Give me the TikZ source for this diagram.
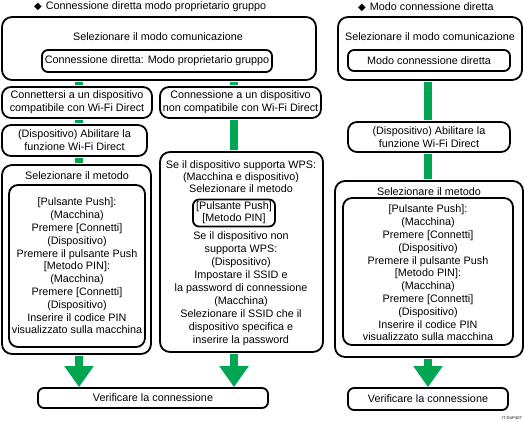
\documentclass[tikz,border=0pt]{standalone}
\usepackage{fontspec}
\setmainfont{Liberation Sans}
\newfontfamily\symfont{DejaVu Sans}
\usetikzlibrary{arrows.meta}
\definecolor{flowgreen}{RGB}{0,166,81}
\begin{document}
\begin{tikzpicture}[x=1pt,y=-1pt,
  every node/.style={font=\fontsize{10.8}{12.8}\selectfont},
  obox/.style={draw, line width=1.8pt, rounded corners=10pt, inner sep=0pt, fill=white},
  ibox/.style={draw, line width=1.8pt, rounded corners=6pt, inner sep=0pt, align=center, fill=white},
  txt/.style={inner sep=0pt, align=center},
  bar/.style={draw=flowgreen, line width=8pt, shorten <=0.9pt, shorten >=0.9pt},
  bigarrow/.style={draw=flowgreen, line width=8pt, shorten <=0.9pt, -{Triangle[width=28pt,length=21pt]}, flowgreen}
]
\useasboundingbox (0,0) rectangle (524,422);
\coordinate (xl) at (79,0);
\coordinate (xr) at (234,0);
\coordinate (xs) at (428,0);

% titles
\node[txt, anchor=west] (T1) at (34,7) {{\symfont\fontsize{10}{10}\selectfont ◆}\hspace{4pt}Connessione diretta modo proprietario gruppo};
\node[txt, anchor=west] (T2) at (358,7) {{\symfont\fontsize{10}{10}\selectfont ◆}\hspace{4pt}Modo connessione diretta};

% left section
\node[obox, minimum width=314pt, minimum height=63pt] (A) at (159,48.5) {};
\node[txt] (At) at (158,37) {Selezionare il modo comunicazione};
\node[ibox, minimum width=230pt, minimum height=22pt] (A2) at (157,61) {Connessione diretta: Modo proprietario gruppo};

\node[ibox, rounded corners=9pt, minimum width=150pt, minimum height=31pt] (B1) at (77,102.5) {Connettersi a un dispositivo\\compatibile con Wi-Fi Direct};
\node[ibox, rounded corners=9pt, minimum width=161pt, minimum height=31pt] (B2) at (240.5,102.5) {Connessione a un dispositivo\\non compatibile con Wi-Fi Direct};

\node[ibox, rounded corners=9pt, minimum width=145pt, minimum height=31pt] (C1) at (74.5,140.5) {(Dispositivo) Abilitare la\\funzione Wi-Fi Direct};

\node[obox, minimum width=149pt, minimum height=189pt] (D1) at (76.5,259.5) {};
\node[txt] (D1t) at (77,176) {Selezionare il metodo};
\node[ibox, rounded corners=9pt, minimum width=136pt, minimum height=162pt] (D1i) at (77,266) {};
\node[txt] (D1l) at (77,266) {{[}Pulsante Push{]}:\\(Macchina)\\Premere {[}Connetti{]}\\(Dispositivo)\\Premere il pulsante Push\\{[}Metodo PIN{]}:\\(Macchina)\\Premere {[}Connetti{]}\\(Dispositivo)\\Inserire il codice PIN\\visualizzato sulla macchina};

\node[obox, minimum width=163pt, minimum height=200pt] (D2) at (241.5,252) {};
\node[txt, font=\fontsize{10.8}{12}\selectfont] (D2a) at (241,177) {Se il dispositivo supporta WPS:\\(Macchina e dispositivo)\\Selezionare il metodo};
\node[ibox, minimum width=82pt, minimum height=27pt, font=\fontsize{10.8}{12}\selectfont] (E) at (234,213) {{[}Pulsante Push{]}\\{[}Metodo PIN{]}};
\node[txt, font=\fontsize{10.8}{13}\selectfont] (D2b) at (241,289) {Se il dispositivo non\\supporta WPS:\\(Dispositivo)\\Impostare il SSID e\\la password di connessione\\(Macchina)\\Selezionare il SSID che il\\dispositivo specifica e\\inserire la password};

\node[ibox, minimum width=230pt, minimum height=20pt] (V1) at (153,398) {Verificare la connessione};

% right section
\node[obox, minimum width=184pt, minimum height=63pt] (F) at (430,48.5) {};
\node[txt] (Ft) at (430,37) {Selezionare il modo comunicazione};
\node[ibox, minimum width=162pt, minimum height=21pt] (F2) at (429,60.5) {Modo connessione diretta};

\node[ibox, rounded corners=9pt, minimum width=162pt, minimum height=30pt] (G) at (429,137) {(Dispositivo) Abilitare la\\funzione Wi-Fi Direct};

\node[obox, minimum width=188pt, minimum height=176pt] (H) at (429,269) {};
\node[txt] (Ht) at (429,192) {Selezionare il metodo};
\node[ibox, rounded corners=9pt, minimum width=170pt, minimum height=147pt] (Hi) at (428,271.5) {};
\node[txt] (Hl) at (428,273) {{[}Pulsante Push{]}:\\(Macchina)\\Premere {[}Connetti{]}\\(Dispositivo)\\Premere il pulsante Push\\{[}Metodo PIN{]}:\\(Macchina)\\Premere {[}Connetti{]}\\(Dispositivo)\\Inserire il codice PIN\\visualizzato sulla macchina};

\node[ibox, minimum width=160pt, minimum height=22pt] (V2) at (428,399) {Verificare la connessione};

\node[txt, font=\fontsize{4}{5}\selectfont, anchor=east] (code) at (522,418) {IT DUP407};

% connectors
\draw[bar] (A.south -| xl) -- (B1.north -| xl);
\draw[bar] (B1.south -| xl) -- (C1.north -| xl);
\draw[bar] (C1.south -| xl) -- (D1.north -| xl);
\draw[bar] (A.south -| xr) -- (B2.north -| xr);
\draw[bar] (B2.south -| xr) -- (D2.north -| xr);
\draw[bar] (F.south -| xs) -- (G.north -| xs);
\draw[bar] (G.south -| xs) -- (H.north -| xs);

\draw[bigarrow] (D1.south -| xl) -- (V1.north -| xl);
\draw[bigarrow] (D2.south -| xr) -- (V1.north -| xr);
\draw[bigarrow] (H.south -| xs) -- (V2.north -| xs);
\end{tikzpicture}
\end{document}
